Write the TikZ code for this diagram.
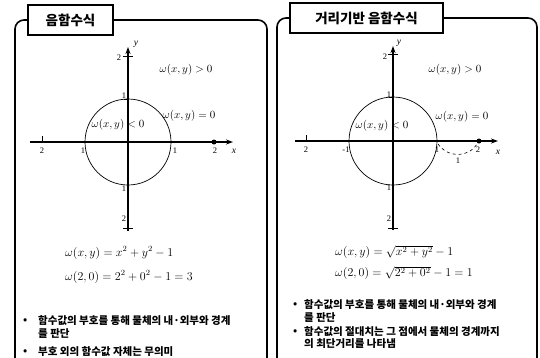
\documentclass[tikz,border=0pt]{standalone}
\usepackage{fontspec}
\setmainfont{Liberation Serif}
\newfontfamily\kr{Noto Sans CJK KR}
\usetikzlibrary{arrows.meta}
\begin{document}
\begin{tikzpicture}[x=1pt,y=-1pt,
 frame/.style={line width=1.6pt, rounded corners=9pt},
 titlebox/.style={draw, line width=1.9pt, fill=white, minimum height=30pt, font=\kr\bfseries\fontsize{13.5}{15}\selectfont, inner sep=0pt},
 axis/.style={line width=1.2pt, -{Stealth[length=7pt,width=5pt]}},
 tick/.style={line width=0.8pt},
 lab/.style={font=\fontsize{8.5}{9}\selectfont, inner sep=0pt},
 mlab/.style={font=\fontsize{11}{13}\selectfont, inner sep=0pt},
 formula/.style={font=\fontsize{11.5}{14}\selectfont, inner sep=0pt, anchor=west},
 bul/.style={font=\kr\bfseries\fontsize{10.5}{12}\selectfont, inner sep=0pt, anchor=west},
 dotnode/.style={circle, fill=black, inner sep=0pt, minimum size=5pt},
]
\useasboundingbox (0,0) rectangle (540,357);

% ---------- frames ----------
\draw[frame] (15,357.8) -- (15,20) -- (267,20) -- (267,357.8);
\draw[frame] (277,357.8) -- (277,18) -- (537,18) -- (537,357.8);
\node[titlebox, minimum width=85pt] (t1) at (70.5,20) {음함수식};
\node[titlebox, minimum width=153pt] (t2) at (366.5,18) {거리기반 음함수식};

% ---------- left panel ----------
\coordinate (o1) at (128,142);
\coordinate (xl1) at (30,142);
\coordinate (xr1) at (233,142);
\coordinate (yb1) at (128,231);
\coordinate (yt1) at (128,47);
\draw[axis] (xl1) -- (xr1);
\draw[axis] (yb1) -- (yt1);
\draw[line width=0.7pt] (o1) circle[radius=43];
\draw[tick] (42,136) -- (42,142);
\draw[tick] (123,56) -- (133,56);
\draw[tick] (128,52) -- (128,60);
\draw[tick] (123,228) -- (133,228);
\draw[tick] (124,99) -- (128,99);
\node[dotnode] (p1) at (214,142) {};
\node[lab] (l1a) at (42,151) {2};
\node[lab] (l1b) at (83,151) {1};
\node[lab] (l1c) at (175,151) {1};
\node[lab] (l1d) at (215,151) {2};
\node[lab, font=\itshape\fontsize{9.5}{10}\selectfont] (l1x) at (234,151) {x};
\node[lab] (l1e) at (119,58) {2};
\node[lab, font=\itshape\fontsize{9.5}{10}\selectfont] (l1y) at (136,44) {y};
\node[lab] (l1f) at (124,96) {1};
\node[lab] (l1g) at (124,189) {1};
\node[lab] (l1h) at (124,219) {2};
\node[mlab] (m1a) at (186,70) {$\omega(x,y)>0$};
\node[mlab] (m1b) at (189,116) {$\omega(x,y)=0$};
\node[mlab] (m1c) at (118,125) {$\omega(x,y)<0$};
\node[formula] (f1a) at (65,253) {$\omega(x,y)=x^2+y^2-1$};
\node[formula] (f1b) at (65,277) {$\omega(2,0)=2^2+0^2-1=3$};
\node[bul] (b1a) at (23,321) {•};
\node[bul] (b1t) at (38,321) {함수값의 부호를 통해 물체의 내·외부와 경계};
\node[bul] (b1u) at (38,334) {를 판단};
\node[bul] (b1b) at (23,352) {•};
\node[bul] (b1v) at (38,352) {부호 외의 함수값 자체는 무의미};

% ---------- right panel ----------
\coordinate (o2) at (393,141);
\coordinate (xl2) at (295,141);
\coordinate (xr2) at (498,141);
\coordinate (yb2) at (393,230);
\coordinate (yt2) at (393,46);
\draw[axis] (xl2) -- (xr2);
\draw[axis] (yb2) -- (yt2);
\draw[line width=0.7pt] (o2) circle[radius=44];
\draw[tick] (306,135) -- (306,141);
\draw[tick] (388,54) -- (398,54);
\draw[tick] (393,50) -- (393,58);
\draw[tick] (388,228) -- (398,228);
\draw[tick] (389,97) -- (393,97);
\node[dotnode] (p2) at (479,141) {};
\coordinate (d1) at (438,144);
\coordinate (d2) at (477,144);
\draw[dashed, line width=0.6pt] (d1) .. controls (448,158) and (468,158) .. (d2);
\node[lab] (l2a) at (306,150) {2};
\node[lab] (l2b) at (346,150) {-1};
\node[lab] (l2c) at (437,150) {1};
\node[lab] (l2d) at (478,150) {2};
\node[lab, font=\itshape\fontsize{9.5}{10}\selectfont] (l2x) at (498,152) {x};
\node[lab] (l2dist) at (458,161) {1};
\node[lab] (l2e) at (385,57) {2};
\node[lab, font=\itshape\fontsize{9.5}{10}\selectfont] (l2y) at (399,43) {y};
\node[lab] (l2f) at (389,95) {1};
\node[lab] (l2g) at (389,188) {1};
\node[lab] (l2h) at (389,219) {2};
\node[mlab] (m2a) at (455,70) {$\omega(x,y)>0$};
\node[mlab] (m2b) at (462,117) {$\omega(x,y)=0$};
\node[mlab] (m2c) at (382,126) {$\omega(x,y)<0$};
\node[formula] (f2a) at (335,252) {$\omega(x,y)=\sqrt{x^2+y^2}-1$};
\node[formula] (f2b) at (335,273) {$\omega(2,0)=\sqrt{2^2+0^2}-1=1$};
\node[bul] (b2a) at (293,305) {•};
\node[bul] (b2t) at (304,305) {함수값의 부호를 통해 물체의 내·외부와 경계};
\node[bul] (b2u) at (304,318) {를 판단};
\node[bul] (b2b) at (293,332) {•};
\node[bul] (b2v) at (304,332) {함수값의 절대치는 그 점에서 물체의 경계까지};
\node[bul] (b2w) at (304,344) {의 최단거리를 나타냄};
\end{tikzpicture}
\end{document}
